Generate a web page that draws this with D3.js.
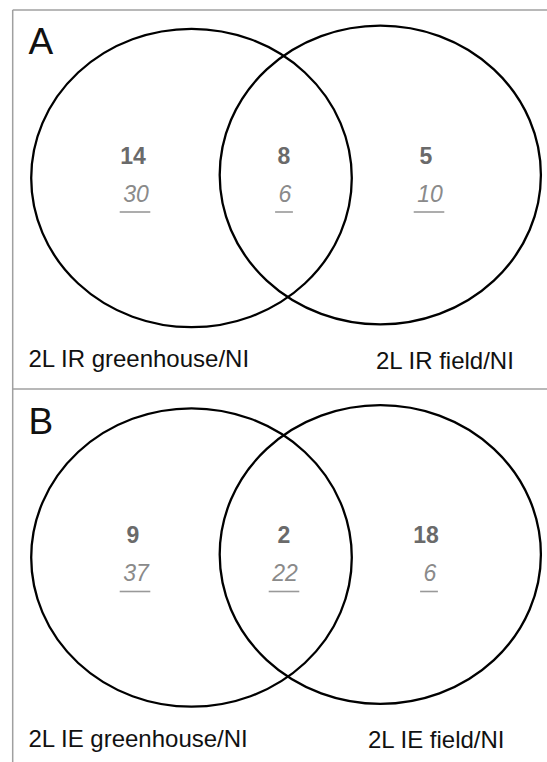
<!DOCTYPE html>
<meta charset="utf-8">
<style>
body { margin: 0; background: #fff; }
text { font-family: "Liberation Sans", Arial, sans-serif; }
.set { fill: none; stroke: #000; stroke-width: 2.3px; }
.frame { stroke: #a0a0a0; stroke-width: 1.5px; }
.count { font-weight: bold; fill: #6a6a6a; font-size: 23px; text-anchor: middle; }
.count2 { font-style: italic; fill: #8a8a8a; font-size: 23px; text-anchor: middle; }
.uline { stroke: #999; stroke-width: 1.6px; }
.setlabel { font-size: 24px; fill: #111; }
.panel { font-size: 37px; fill: #111; }
</style>
<body>
<script src="https://d3js.org/d3.v7.min.js"></script>
<script>

// the data
var panels = ["A", "B"];
var leftSets = ["2L IR greenhouse/NI", "2L IE greenhouse/NI"];
var rightSets = ["2L IR field/NI", "2L IE field/NI"];
var regions = ["left", "both", "right"];
var boldCounts = [[14, 8, 5], [9, 2, 18]];
var italicCounts = [[30, 6, 10], [37, 22, 6]];

var width = 547, height = 762;

// one band per panel, stacked vertically
var y = d3.scaleBand().domain(panels).range([0, 759]);

// where each region's numbers sit
var xBold = d3.scaleOrdinal().domain(regions).range([133, 284, 426]);
var xItal = d3.scaleOrdinal().domain(regions).range([136, 285, 430]);

// the two circles (slightly squashed in the original)
var circles = [
  {cx: 191.5, cy: 178, rx: 160.3, ry: 149.2},
  {cx: 380.3, cy: 175, rx: 160.6, ry: 149.3}
];
var rightLabelX = {A: 376, B: 368};

var svg = d3.select("body").append("svg")
    .attr("width", width)
    .attr("height", height);

// outer frame and divider
svg.append("line").attr("class", "frame")
    .attr("x1", 12.7).attr("x2", width).attr("y1", 10).attr("y2", 10);
svg.append("line").attr("class", "frame")
    .attr("x1", 12.7).attr("x2", 12.7).attr("y1", 10).attr("y2", height);
svg.append("line").attr("class", "frame")
    .attr("x1", 12.7).attr("x2", width).attr("y1", 389).attr("y2", 389);

panels.forEach(function(p, i) {
  var g = svg.append("g")
      .attr("transform", "translate(0," + y(p) + ")");

  g.selectAll("ellipse")
      .data(circles)
    .enter().append("ellipse")
      .attr("class", "set")
      .attr("cx", function(d) { return d.cx; })
      .attr("cy", function(d) { return d.cy; })
      .attr("rx", function(d) { return d.rx; })
      .attr("ry", function(d) { return d.ry; });

  g.append("text")
      .attr("class", "panel")
      .attr("x", 28.5)
      .attr("y", 54)
      .text(p);

  // bold counts
  g.selectAll(".count")
      .data(boldCounts[i])
    .enter().append("text")
      .attr("class", "count")
      .attr("x", function(d, j) { return xBold(regions[j]); })
      .attr("y", 163.5)
      .text(function(d) { return d; });

  // italic underlined counts
  var it = g.selectAll(".count2")
      .data(italicCounts[i])
    .enter().append("text")
      .attr("class", "count2")
      .attr("x", function(d, j) { return xItal(regions[j]); })
      .attr("y", 201.5)
      .text(function(d) { return d; });

  it.each(function(d, j) {
    var w = this.getComputedTextLength() + 5;
    var cx = xItal(regions[j]) - 1;
    g.append("line")
        .attr("class", "uline")
        .attr("x1", cx - w / 2).attr("x2", cx + w / 2)
        .attr("y1", 212).attr("y2", 212);
  });

  g.append("text")
      .attr("class", "setlabel")
      .attr("x", 28.5)
      .attr("y", 367.3)
      .text(leftSets[i]);

  g.append("text")
      .attr("class", "setlabel")
      .attr("x", rightLabelX[p])
      .attr("y", 368.5)
      .text(rightSets[i]);
});

</script>
</body>
